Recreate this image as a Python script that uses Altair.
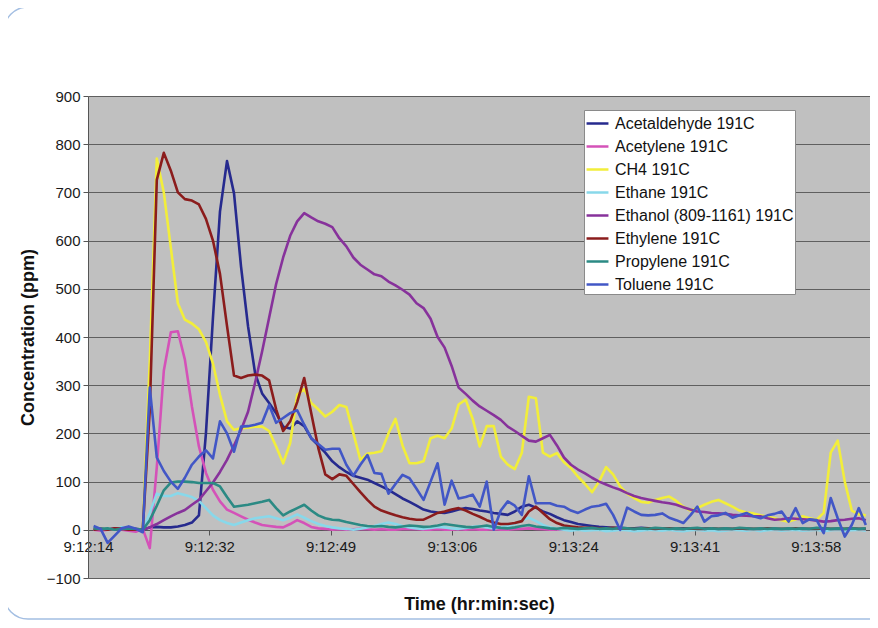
import altair as alt
import pandas as pd

# ---------------- data ----------------
series_names = ["Acetaldehyde 191C", "Acetylene 191C", "CH4 191C", "Ethane 191C",
                "Ethanol (809-1161) 191C", "Ethylene 191C", "Propylene 191C", "Toluene 191C"]
series_colors = ["#262a8e", "#d452b8", "#f2ee3a", "#88d8ea",
                 "#87329b", "#8b1c1c", "#2b8a84", "#4257c6"]

# x-axis tick labels (seconds after 9:12:14.4, major unit 17.28 s)
tick_labels = ["9:12:14", "9:12:32", "9:12:49", "9:13:06", "9:13:24", "9:13:41", "9:13:58"]
tick_seconds = [0, 17.28, 34.56, 51.84, 69.12, 86.4, 103.68]
first_sample_s = 0.8
sample_step_s = 1.0

acetaldehyde = [3, 2, 0, 2, 3, 2, 0, 0, 5, 6,
                5, 5, 7, 10, 15, 30, 200, 440, 660, 765,
                698, 546, 422, 325, 283, 263, 242, 214, 210, 225,
                215, 190, 175, 160, 142, 130, 120, 112, 108, 104,
                97, 90, 83, 74, 65, 58, 50, 42, 38, 36,
                35, 38, 42, 45, 43, 40, 38, 35, 33, 31,
                38, 48, 52, 46, 38, 33, 26, 20, 16, 12,
                10, 8, 6, 5, 4, 4, 3, 3, 4, 3,
                2, 3, 2, 2, 3, 2, 1, 2, 2, 1,
                2, 1, 1, 2, 1, 1, 2, 1, 1, 0,
                1, 1, 0, 1, 1, 0, 1, 0, 1, 1, 0]
acetylene = [0, -2, 0, 2, 0, -2, -4, 2, -38, 130,
             330, 410, 412, 353, 256, 173, 118, 83, 59, 42,
             35, 28, 21, 15, 10, 8, 6, 5, 12, 20,
             14, 6, 3, 2, 0, 1, 0, 1, 2, 1,
             0, 1, 0, 0, 1, 2, 1, 0, 0, 1,
             0, 0, 1, 0, 1, 0, 0, 1, 0, 0,
             1, 2, 3, 2, 1, 0, 0, 1, 0, 0,
             1, 0, 0, 0, 1, 0, 0, 1, 0, 0,
             0, 1, 0, 0, 0, 1, 0, 0, 1, 0,
             0, 0, 1, 0, 0, 0, 1, 0, 0, 0,
             1, 0, 0, 0, 1, 0, 0, 0, 1, 0, 0]
ch4 = [2, 3, 0, 2, 4, 2, 0, 0, 350, 770,
       700, 585, 470, 436, 428, 416, 390, 345, 280, 225,
       207, 211, 212, 214, 214, 205, 173, 138, 180, 280,
       292, 263, 250, 235, 245, 259, 255, 200, 145, 158,
       160, 163, 200, 230, 175, 138, 138, 142, 190, 195,
       190, 210, 260, 270, 230, 173, 215, 215, 152, 135,
       126, 160, 276, 273, 160, 152, 159, 140, 128, 110,
       95, 78, 100, 130, 115, 90, 75, 66, 58, 56,
       62, 66, 69, 60, 48, 40, 45, 52, 58, 62,
       55, 48, 40, 36, 34, 30, 27, 24, 20, 17,
       22, 28, 24, 21, 35, 160, 185, 100, 40, 32, 30]
ethane = [5, 3, 0, 2, 5, 2, 0, 0, 35, 75,
          70, 70, 76, 72, 68, 60, 45, 30, 20, 14,
          10, 15, 20, 24, 26, 28, 24, 20, 25, 32,
          25, 18, 12, 8, 5, 3, 2, 0, 2, 5,
          8, 12, 15, 12, 8, 5, 3, 2, 4, 6,
          5, 3, 2, 4, 6, 8, 5, 3, 5, 8,
          12, 20, 25, 18, 10, 5, 2, 0, -2, 0,
          -2, -1, 0, -3, -2, 0, -1, -3, -2, 0,
          -1, -2, 0, -2, -3, -1, 0, -2, -1, -3,
          -2, 0, -1, -2, 0, -3, -1, 0, -2, -1,
          0, -2, -1, 0, -3, -1, 0, -2, -1, 0, -2]
ethanol = [0, 2, 0, 3, 2, 0, 2, 0, 5, 12,
           20, 28, 35, 41, 52, 62, 80, 98, 120, 145,
           175, 207, 245, 305, 370, 440, 510, 565, 610, 640,
           657, 648, 640, 635, 628, 605, 588, 565, 550, 540,
           530, 526, 515, 507, 498, 488, 470, 460, 438, 400,
           378, 340, 295, 282, 268, 256, 247, 238, 228, 214,
           205, 195, 185, 183, 190, 197, 175, 150, 135, 125,
           117, 108, 100, 94, 88, 83, 76, 70, 66, 63,
           60, 57, 55, 52, 47, 42, 38, 37, 35, 34,
           33, 31, 30, 29, 28, 28, 24, 21, 22, 24,
           23, 22, 21, 19, 17, 18, 20, 21, 23, 24, 20]
ethylene = [0, 2, 0, 3, 2, 0, 0, 0, 250, 726,
            782, 745, 700, 686, 683, 675, 645, 600, 531, 423,
            320, 315, 320, 322, 320, 310, 250, 205, 225, 265,
            315, 242, 170, 115, 105, 115, 112, 95, 78, 62,
            48, 40, 35, 30, 26, 23, 21, 21, 28, 35,
            38, 42, 45, 40, 33, 27, 20, 15, 12, 12,
            14, 18, 38, 48, 35, 22, 14, 9, 7, 5,
            4, 4, 3, 3, 4, 3, 3, 2, 3, 3,
            2, 3, 3, 2, 2, 3, 2, 2, 3, 2,
            2, 2, 3, 2, 2, 2, 3, 2, 2, 2,
            3, 2, 2, 2, 3, 2, 2, 2, 3, 2, 2]
propylene = [3, 2, 3, 0, 2, 3, 2, 0, 20, 50,
             82, 98, 100, 100, 99, 97, 97, 97, 90, 68,
             48, 50, 52, 55, 58, 62, 45, 30, 38, 45,
             52, 40, 30, 24, 21, 20, 16, 13, 10, 8,
             7, 8, 6, 5, 7, 9, 8, 6, 7, 9,
             12, 10, 8, 6, 5, 7, 9, 6, 4, 3,
             5, 8, 10, 7, 5, 3, 2, 4, 3, 2,
             3, 4, 2, 3, 2, 4, 3, 2, 3, 2,
             4, 3, 2, 3, 2, 3, 4, 2, 3, 2,
             3, 2, 4, 3, 2, 3, 2, 3, 2, 3,
             2, 3, 2, 4, 3, 2, 3, 2, 3, 2, 3]
toluene = [8, 2, -27, -12, 3, 7, 2, -5, 295, 150,
           122, 100, 85, 108, 135, 152, 165, 148, 225, 200,
           162, 214, 215, 218, 222, 259, 222, 232, 242, 248,
           218, 190, 178, 166, 168, 168, 135, 112, 135, 155,
           118, 116, 75, 95, 114, 107, 85, 62, 100, 138,
           52, 102, 65, 68, 73, 48, 100, 0, 40, 59,
           50, 31, 111, 55, 55, 55, 50, 48, 40, 35,
           42, 48, 50, 54, 31, 0, 46, 38, 31, 30,
           31, 34, 25, 20, 14, 30, 48, 17, 28, 30,
           35, 25, 30, 35, 28, 24, 30, 33, 38, 17,
           45, 14, 22, 20, -7, 66, 24, -14, 10, 45, 10]

all_series = [acetaldehyde, acetylene, ch4, ethane, ethanol, ethylene, propylene, toluene]

rows = []
for name, vals in zip(series_names, all_series):
    for k, v in enumerate(vals):
        rows.append({"t": first_sample_s + k * sample_step_s, "v": v, "series": name})
df = pd.DataFrame(rows)

# ---------------- chart ----------------
FONT = "Liberation Sans"
W, H = 782, 482
x_max = W / 7.02

label_expr = "[" + ",".join("'%s'" % s for s in tick_labels) + "][round(datum.value / %s)]" % tick_seconds[1]

lines = alt.Chart(df).mark_line(strokeWidth=2.6, strokeJoin="round", clip=True).encode(
    x=alt.X("t:Q",
            scale=alt.Scale(domain=[0, x_max], nice=False, zero=False),
            axis=alt.Axis(values=tick_seconds, labelExpr=label_expr, title="Time (hr:min:sec)",
                          offset=-48, grid=False, domainColor="#555555", tickColor="#555555",
                          tickSize=5, labelFontSize=15, labelColor="#1a1a1a", labelFont=FONT,
                          labelFlush=False, labelOverlap=False, labelPadding=4,
                          titleFont=FONT, titleFontSize=18, titleFontWeight="bold",
                          titleColor="#111111", titlePadding=41)),
    y=alt.Y("v:Q",
            scale=alt.Scale(domain=[-100, 900], nice=False),
            axis=alt.Axis(values=list(range(-100, 1000, 100)), grid=True, gridColor="#5f5f5f",
                          gridWidth=1, domainColor="#555555", tickColor="#555555", tickSize=5,
                          labelFontSize=15, labelColor="#1a1a1a", labelFont=FONT, labelPadding=3,
                          title="Concentration (ppm)", titleFont=FONT, titleFontSize=18,
                          titleFontWeight="bold", titleColor="#111111", titlePadding=9)),
    color=alt.Color("series:N", sort=series_names, title=None,
                    scale=alt.Scale(domain=series_names, range=series_colors),
                    legend=alt.Legend(orient="none", legendX=496, legendY=14,
                                      fillColor="white", strokeColor="#8a8a8a", padding=1,
                                      symbolType="stroke", symbolStrokeWidth=2.5, symbolSize=480,
                                      labelFontSize=16, labelFont=FONT, labelColor="#111111",
                                      rowPadding=2, labelLimit=300, labelOffset=5)),
)

frame = alt.Chart(pd.DataFrame({"f": [0]})).mark_rect(
    cornerRadius=24, fill="white", fillOpacity=0, stroke="#a3bee2", strokeWidth=1.5
).encode(x=alt.value(-84), x2=alt.value(820), y=alt.value(-89), y2=alt.value(523))

chart = alt.layer(frame, lines).properties(
    width=W, height=H,
    autosize=alt.AutoSizeParams(type="none"),
    padding={"left": 80, "top": 88, "right": 0, "bottom": 42},
).configure(background="white").configure_view(fill="#c0c0c0", stroke="transparent")

chart.save("out.html", embed_options={"renderer": "svg", "actions": False})
